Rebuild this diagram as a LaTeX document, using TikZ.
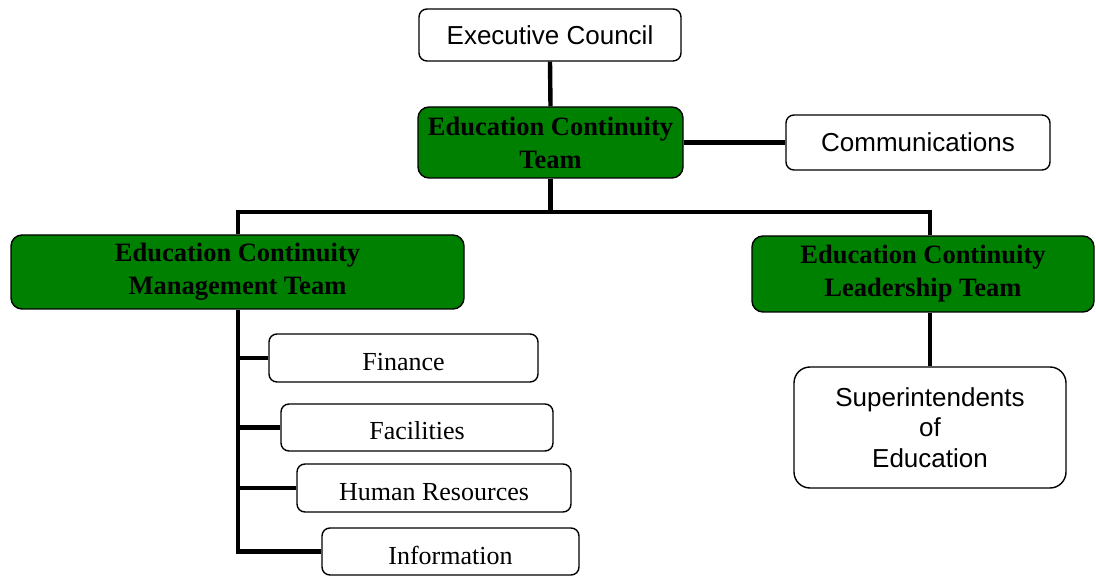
\documentclass[tikz,border=0pt]{standalone}
\usepackage{fontspec}
\setmainfont{Liberation Serif}
\newfontfamily\arialfont{Liberation Sans}
\definecolor{teamgreen}{RGB}{0,128,0}
\begin{document}
\begin{tikzpicture}[x=1pt,y=-1pt,
  box/.style={draw=black, line width=1.4pt, rounded corners=8pt, fill=white, inner sep=0pt, align=center},
  greenbox/.style={box, fill=teamgreen, rounded corners=11pt, font=\fontsize{26.5}{33}\selectfont\bfseries},
  sansbox/.style={box, font=\arialfont\fontsize{26}{30.5}\selectfont},
  serifbox/.style={box, font=\fontsize{26}{31}\selectfont, text height=25pt, text depth=0pt},
  conn/.style={draw=black, line width=4.4pt}]
\useasboundingbox (0,0) rectangle (1096,577);
% nodes
\node[sansbox, minimum width=262pt, minimum height=52pt] (ec) at (550,35) {Executive Council};
\node[greenbox, minimum width=265pt, minimum height=71pt] (ect) at (550.5,142.5) {Education Continuity\\Team};
\node[sansbox, minimum width=264pt, minimum height=55pt] (comm) at (918,142.5) {Communications};
\node[greenbox, minimum width=453pt, minimum height=74pt] (ecmt) at (237.5,272) {Education Continuity\\Management Team};
\node[greenbox, minimum width=342pt, minimum height=76pt] (eclt) at (923,274) {Education Continuity\\Leadership Team};
\node[sansbox, rounded corners=16pt, minimum width=272pt, minimum height=121pt] (sup) at (930,427.5) {Superintendents\\of\\Education};
\node[serifbox, minimum width=269pt, minimum height=48pt] (fin) at (403.5,358) {Finance};
\node[serifbox, minimum width=272pt, minimum height=47pt] (fac) at (417,427.5) {Facilities};
\node[serifbox, minimum width=274pt, minimum height=48pt] (hr) at (434,488) {Human Resources};
\node[serifbox, minimum width=257pt, minimum height=47pt] (info) at (450.5,551.5) {Information};
% bus coordinates
\coordinate (busL) at (238,212);
\coordinate (busR) at (930,212);
% connectors
\draw[conn] (ec.south) -- (ect.north);
\draw[conn] (ect.east) -- (comm.west);
\draw[conn] (ect.south) -- (ect.south |- busL);
\draw[conn] (busL |- ecmt.north) -- (busL) -- (busR) -- (busR |- eclt.north);
\draw[conn] (busL |- ecmt.south) -- (busL |- info.west) -- (info.west);
\draw[conn] (busL |- fin.west) -- (fin.west);
\draw[conn] (busL |- fac.west) -- (fac.west);
\draw[conn] (busL |- hr.west) -- (hr.west);
\draw[conn] (busR |- eclt.south) -- (sup.north);
\end{tikzpicture}
\end{document}
